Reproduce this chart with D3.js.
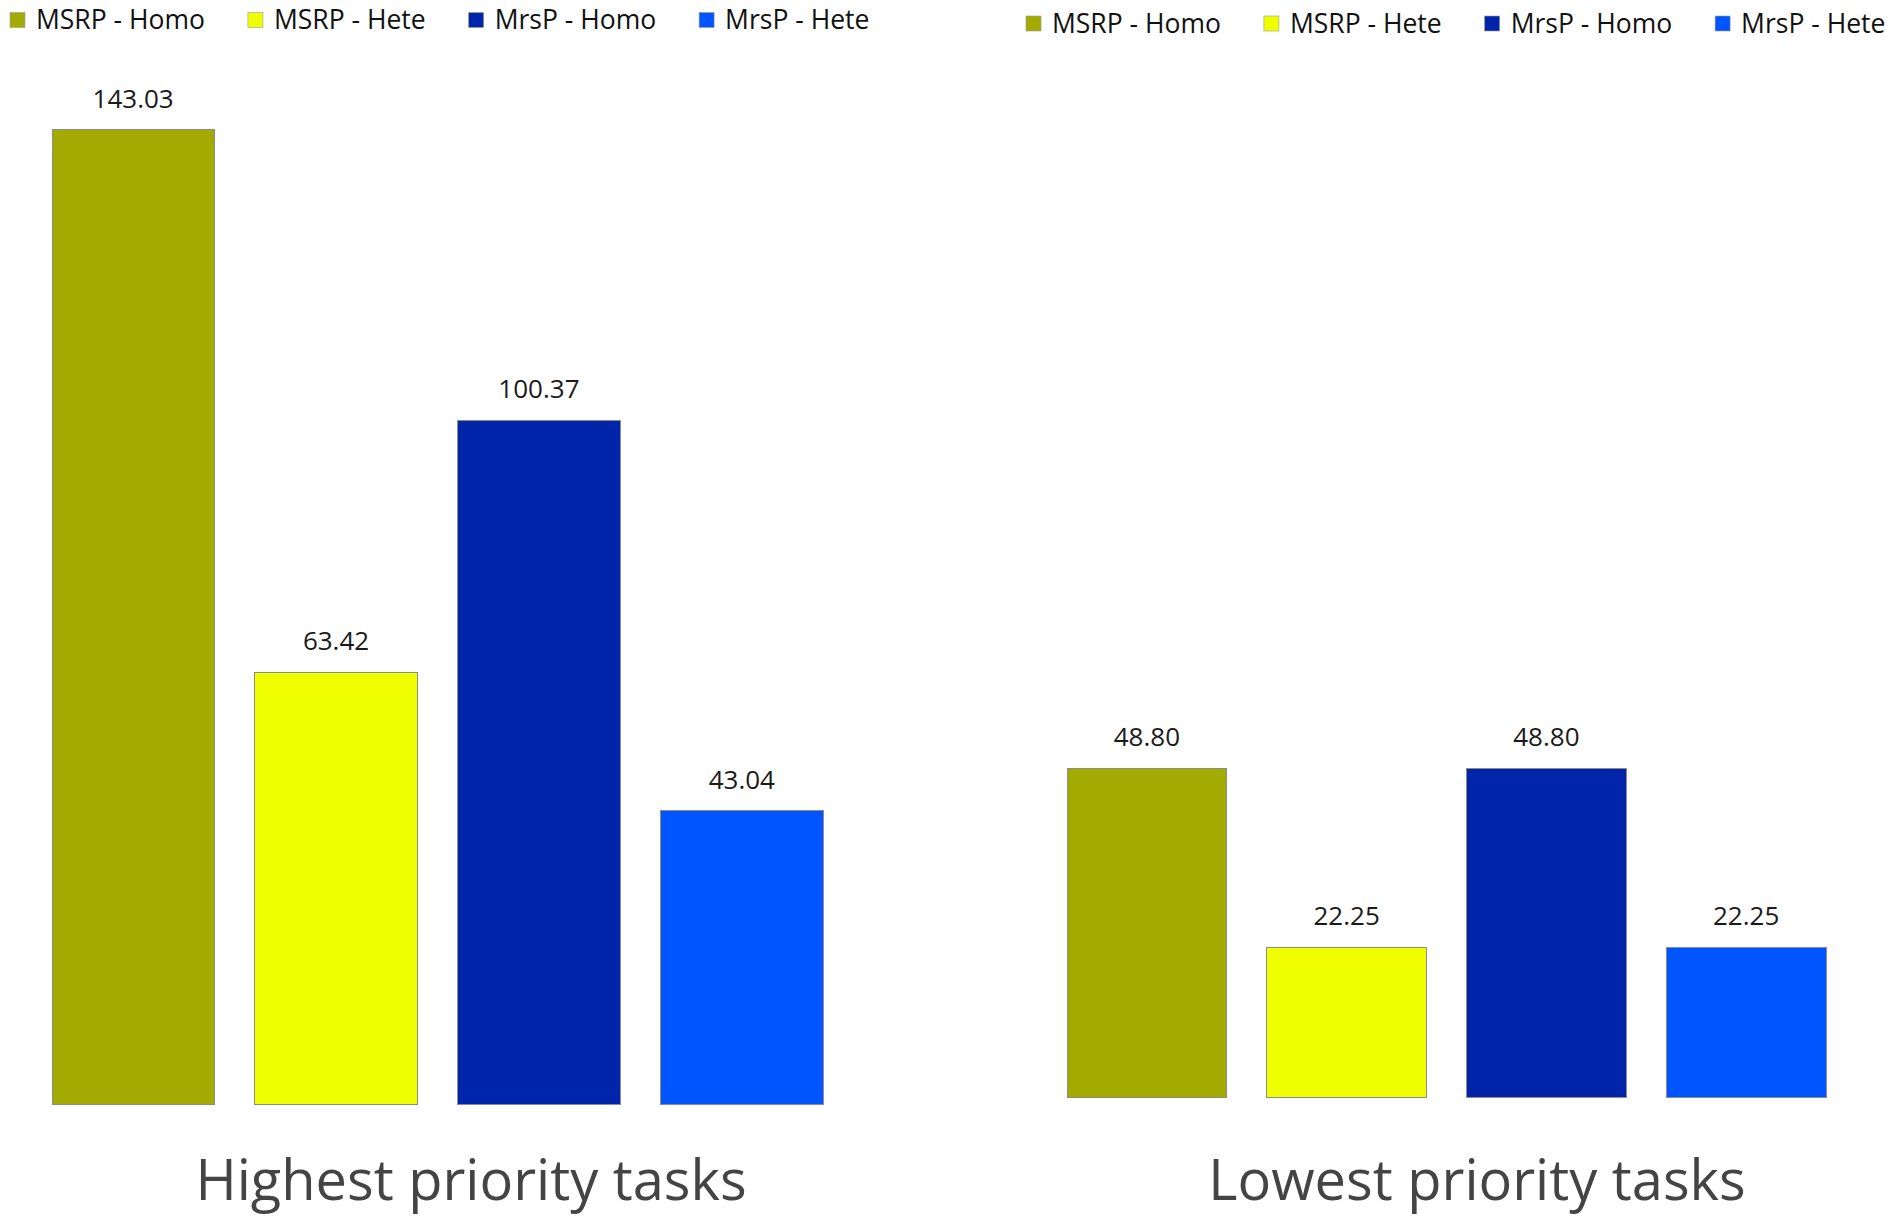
<!DOCTYPE html>
<html>
<head>
<meta charset="utf-8">
<script src="https://cdn.jsdelivr.net/npm/d3@7"></script>
<style>
  html, body { margin: 0; padding: 0; background: #fff; }
  svg { display: block; }
</style>
</head>
<body>
<svg id="chart" width="1902" height="1217"></svg>
<script>
// Series (one bar per protocol / platform combination)
const series = ["MSRP - Homo", "MSRP - Hete", "MrsP - Homo", "MrsP - Hete"];
const seriesColors = ["#A3AB00", "#F0FF00", "#0024AA", "#0055FF"];

// Panels
const categories = ["Highest priority tasks", "Lowest priority tasks"];
const highestValues = [143.03, 63.42, 100.37, 43.04];
const lowestValues = [48.80, 22.25, 48.80, 22.25];

const svg = d3.select("#chart");
const FONT = "'Open Sans', 'Noto Sans', sans-serif";

// Layout for each panel: bar area, baseline, pixel scale, legend origin, title centre
const panels = [
  { title: categories[0], values: highestValues,
    x0: 52, x1: 823, base: 1104, top: 1104 - 150 * 6.81,
    legendX: 10, legendY: 20, titleX: 471 },
  { title: categories[1], values: lowestValues,
    x0: 1067, x1: 1826, base: 1097, top: 1097 - 150 * 6.74,
    legendX: 1026, legendY: 23.5, titleX: 1477 }
];

panels.forEach(p => {
  const g = svg.append("g");

  const x = d3.scaleBand().domain(series).range([p.x0, p.x1]).paddingInner(0.2).paddingOuter(0);
  const y = d3.scaleLinear().domain([0, 150]).range([p.base, p.top]);
  const color = d3.scaleOrdinal().domain(series).range(seriesColors);

  const rows = series.map((s, i) => ({ s, v: p.values[i] }));

  // Bars
  g.selectAll("rect.bar").data(rows).join("rect")
    .attr("class", "bar")
    .attr("x", d => x(d.s))
    .attr("y", d => y(d.v))
    .attr("width", x.bandwidth())
    .attr("height", d => y(0) - y(d.v))
    .attr("fill", d => color(d.s))
    .attr("stroke", "#8c8c8c")
    .attr("stroke-width", 1)
    .attr("shape-rendering", "crispEdges");

  // Value labels above bars
  g.selectAll("text.val").data(rows).join("text")
    .attr("class", "val")
    .attr("x", d => x(d.s) + x.bandwidth() / 2)
    .attr("y", d => y(d.v) - 22)
    .attr("text-anchor", "middle")
    .attr("font-family", FONT)
    .attr("font-size", 26)
    .attr("fill", "#1a1a1a")
    .text(d => d.v.toFixed(2));

  // Panel title under the bars
  g.append("text")
    .attr("x", p.titleX)
    .attr("y", 1200)
    .attr("text-anchor", "middle")
    .attr("font-family", FONT)
    .attr("font-size", 56)
    .attr("fill", "#444444")
    .text(p.title);

  // Legend: square swatch followed by label, laid out left to right
  const lg = g.append("g");
  let cx = p.legendX;
  series.forEach(s => {
    lg.append("rect")
      .attr("x", cx).attr("y", p.legendY - 7.5)
      .attr("width", 15).attr("height", 15)
      .attr("fill", color(s))
      .attr("stroke", "#9a9a9a").attr("stroke-width", 0.6);
    const t = lg.append("text")
      .attr("x", cx + 26)
      .attr("y", p.legendY)
      .attr("dy", "0.35em")
      .attr("font-family", FONT)
      .attr("font-size", 26.5)
      .attr("fill", "#111")
      .text(s);
    cx = cx + 26 + t.node().getComputedTextLength() + 43;
  });
});
</script>
</body>
</html>
